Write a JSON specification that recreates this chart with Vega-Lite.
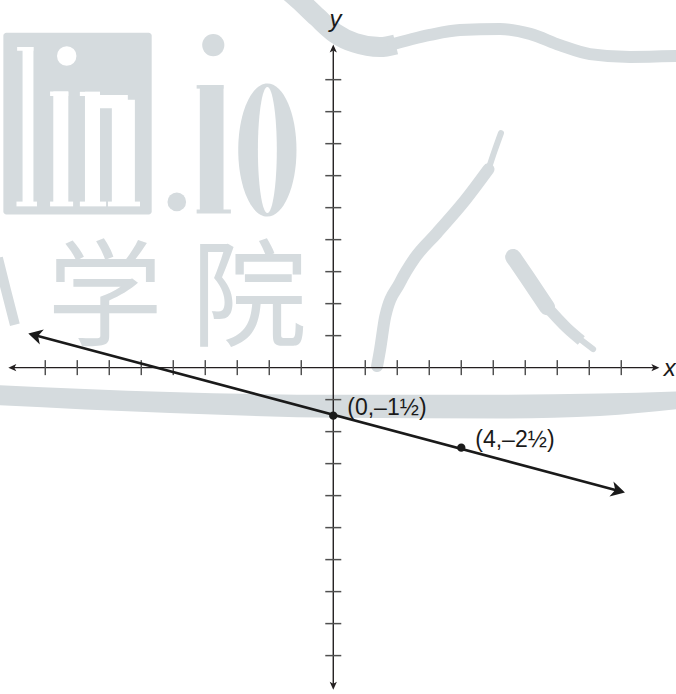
{
  "$schema": "https://vega.github.io/schema/vega-lite/v6.json",
  "width": 676,
  "height": 694,
  "padding": 0,
  "autosize": {"type": "none"},
  "background": "white",
  "config": {"view": {"stroke": null}},
  "datasets": {
    "band": [
      {"x": -10.6, "y": -0.54, "y2": -1.17},
      {"x": -5.1, "y": -0.76, "y2": -1.42},
      {"x": 0.21, "y": -0.85, "y2": -1.57},
      {"x": 5.21, "y": -0.85, "y2": -1.59},
      {"x": 8.33, "y": -0.81, "y2": -1.51},
      {"x": 10.83, "y": -0.74, "y2": -1.29}
    ],
    "curveA": [
      {"x": -1.51, "y": 11.87}, {"x": -1.07, "y": 11.49}, {"x": -0.51, "y": 10.96},
      {"x": 0.05, "y": 10.46}, {"x": 0.68, "y": 10.15}, {"x": 1.46, "y": 10.02}, {"x": 1.95, "y": 10.1}
    ],
    "curveB": [
      {"x": 1.7, "y": 10.06}, {"x": 3.02, "y": 10.4}, {"x": 3.96, "y": 10.55}, {"x": 5.21, "y": 10.58},
      {"x": 6.15, "y": 10.43}, {"x": 7.08, "y": 10.08}, {"x": 8.02, "y": 9.8}, {"x": 9.27, "y": 9.71}, {"x": 10.83, "y": 9.74}
    ],
    "slash1": [
      {"x": 5.24, "y": 7.33}, {"x": 5.05, "y": 6.8}, {"x": 4.85, "y": 6.2}
    ],
    "slash2": [
      {"x": 4.85, "y": 6.2}, {"x": 4.12, "y": 5.23}, {"x": 3.24, "y": 4.21}, {"x": 2.55, "y": 3.43},
      {"x": 2.08, "y": 2.65}, {"x": 1.62, "y": 1.58}, {"x": 1.46, "y": 0.55}, {"x": 1.37, "y": 0.05}
    ],
    "bs1": [
      {"x": 5.62, "y": 3.46}, {"x": 6.05, "y": 2.83}, {"x": 6.68, "y": 1.89}
    ],
    "bs2": [
      {"x": 6.6, "y": 1.99}, {"x": 7.3, "y": 1.24}, {"x": 7.75, "y": 0.85}
    ],
    "bs3": [
      {"x": 7.6, "y": 0.98}, {"x": 8.12, "y": 0.58}
    ],
    "leftDiag": [
      {"x": -10.48, "y": 3.43}, {"x": -10.23, "y": 2.43}, {"x": -9.95, "y": 1.34}
    ],
    "box": [
      {"x": -10.31, "x2": -5.675, "y": 10.47, "y2": 4.79}
    ],
    "linLetters": [
      {"x": -9.71, "x2": -9.37, "y": 10.02, "y2": 5.05},
      {"x": -9.88, "x2": -9.37, "y": 10.02, "y2": 9.9},
      {"x": -9.9, "x2": -9.26, "y": 5.19, "y2": 5.04},
      {"x": -8.75, "x2": -8.28, "y": 8.63, "y2": 5.05},
      {"x": -8.85, "x2": -8.28, "y": 8.63, "y2": 8.49},
      {"x": -8.85, "x2": -8.13, "y": 5.19, "y2": 5.04},
      {"x": -7.76, "x2": -7.29, "y": 8.62, "y2": 5.05},
      {"x": -7.92, "x2": -7.29, "y": 8.62, "y2": 8.49},
      {"x": -7.45, "x2": -6.42, "y": 8.52, "y2": 8.11},
      {"x": -6.92, "x2": -6.2, "y": 8.37, "y2": 5.05},
      {"x": -7.92, "x2": -7.1, "y": 5.19, "y2": 5.04},
      {"x": -7.04, "x2": -6.04, "y": 5.19, "y2": 5.04}
    ],
    "ioRects": [
      {"x": -4.17, "x2": -3.43, "y": 8.83, "y2": 4.83},
      {"x": -4.27, "x2": -3.43, "y": 8.83, "y2": 8.72},
      {"x": -4.27, "x2": -3.2, "y": 4.94, "y2": 4.82}
    ],
    "cjk": [
      {"x": -7.13, "y": 0.96, "t": "学"},
      {"x": -2.63, "y": 0.96, "t": "院"}
    ],
    "axes": [
      {"a": "x", "x": -9.98, "y": 0},
      {"a": "x", "x": 10.02, "y": 0},
      {"a": "y", "x": 0, "y": -9.9},
      {"a": "y", "x": 0, "y": 9.92}
    ],
    "xticks": [
      {"x": -9, "y": 0}, {"x": -8, "y": 0}, {"x": -7, "y": 0}, {"x": -6, "y": 0}, {"x": -5, "y": 0},
      {"x": -4, "y": 0}, {"x": -3, "y": 0}, {"x": -2, "y": 0}, {"x": -1, "y": 0},
      {"x": 1, "y": 0}, {"x": 2, "y": 0}, {"x": 3, "y": 0}, {"x": 4, "y": 0}, {"x": 5, "y": 0},
      {"x": 6, "y": 0}, {"x": 7, "y": 0}, {"x": 8, "y": 0}, {"x": 9, "y": 0}
    ],
    "yticks": [
      {"x": 0, "y": -9}, {"x": 0, "y": -8}, {"x": 0, "y": -7}, {"x": 0, "y": -6}, {"x": 0, "y": -5},
      {"x": 0, "y": -4}, {"x": 0, "y": -3}, {"x": 0, "y": -2}, {"x": 0, "y": -1},
      {"x": 0, "y": 1}, {"x": 0, "y": 2}, {"x": 0, "y": 3}, {"x": 0, "y": 4}, {"x": 0, "y": 5},
      {"x": 0, "y": 6}, {"x": 0, "y": 7}, {"x": 0, "y": 8}, {"x": 0, "y": 9}
    ],
    "mainLine": [
      {"x": -9.29, "y": 1.005},
      {"x": 8.874, "y": -3.842}
    ],
    "points": [
      {"x": 0, "y": -1.5, "label": "(0,–1½)"},
      {"x": 4, "y": -2.5, "label": "(4,–2½)"}
    ]
  },
  "encoding": {
    "x": {"field": "x", "type": "quantitative", "scale": {"domain": [-10.415, 10.71], "nice": false, "zero": false}, "axis": null},
    "y": {"field": "y", "type": "quantitative", "scale": {"domain": [-10.2, 11.49], "nice": false, "zero": false}, "axis": null}
  },
  "layer": [
    {"data": {"name": "band"}, "mark": {"type": "area", "color": "#d5dbde", "interpolate": "monotone"}, "encoding": {"y2": {"field": "y2"}}},
    {"data": {"name": "curveA"}, "mark": {"type": "line", "color": "#d5dbde", "strokeWidth": 20, "strokeCap": "butt", "strokeJoin": "round", "interpolate": "monotone"}, "encoding": {}},
    {"data": {"name": "curveB"}, "mark": {"type": "line", "color": "#d5dbde", "strokeWidth": 12, "strokeCap": "butt", "strokeJoin": "round", "interpolate": "monotone"}, "encoding": {}},
    {"data": {"name": "slash1"}, "mark": {"type": "line", "color": "#d5dbde", "strokeWidth": 6, "strokeCap": "round", "interpolate": "monotone"}, "encoding": {}},
    {"data": {"name": "slash2"}, "mark": {"type": "line", "color": "#d5dbde", "strokeWidth": 12, "strokeCap": "round", "interpolate": "monotone"}, "encoding": {}},
    {"data": {"name": "bs1"}, "mark": {"type": "line", "color": "#d5dbde", "strokeWidth": 16, "strokeCap": "round", "interpolate": "monotone"}, "encoding": {}},
    {"data": {"name": "bs2"}, "mark": {"type": "line", "color": "#d5dbde", "strokeWidth": 11, "strokeCap": "butt", "interpolate": "monotone"}, "encoding": {}},
    {"data": {"name": "bs3"}, "mark": {"type": "line", "color": "#d5dbde", "strokeWidth": 6, "strokeCap": "round"}, "encoding": {}},
    {"data": {"name": "leftDiag"}, "mark": {"type": "line", "color": "#d5dbde", "strokeWidth": 10, "strokeCap": "butt", "interpolate": "monotone"}, "encoding": {}},
    {"data": {"name": "box"}, "mark": {"type": "rect", "color": "#d5dbde", "cornerRadius": 3}, "encoding": {"x2": {"field": "x2"}, "y2": {"field": "y2"}}},
    {"data": {"name": "linLetters"}, "mark": {"type": "rect", "color": "white"}, "encoding": {"x2": {"field": "x2"}, "y2": {"field": "y2"}}},
    {"data": {"values": [{"x": -8.33, "y": 9.74}]}, "mark": {"type": "circle", "color": "white", "size": 380, "opacity": 1}},
    {"data": {"values": [{"x": -4.89, "y": 5.18}]}, "mark": {"type": "circle", "color": "#d5dbde", "size": 346, "opacity": 1}},
    {"data": {"values": [{"x": -3.75, "y": 10.08}]}, "mark": {"type": "circle", "color": "#d5dbde", "size": 491, "opacity": 1}},
    {"data": {"name": "ioRects"}, "mark": {"type": "rect", "color": "#d5dbde"}, "encoding": {"x2": {"field": "x2"}, "y2": {"field": "y2"}}},
    {"data": {"values": [{"x": -2.06, "y": 6.8}]}, "mark": {"type": "point", "filled": true, "opacity": 1, "color": "#d5dbde", "size": 17689, "shape": "M0,-1A0.438,1,0,1,1,0,1A0.438,1,0,1,1,0,-1Z"}},
    {"data": {"values": [{"x": -2.06, "y": 6.8}]}, "mark": {"type": "point", "filled": true, "opacity": 1, "color": "white", "size": 15876, "shape": "M0,-1A0.15,1,0,1,1,0,1A0.15,1,0,1,1,0,-1Z"}},
    {"data": {"name": "cjk"}, "mark": {"type": "text", "color": "#d5dbde", "font": "Noto Sans CJK SC", "fontSize": 116, "align": "center", "baseline": "alphabetic"}, "encoding": {"text": {"field": "t"}}},
    {"data": {"name": "axes"}, "mark": {"type": "line", "color": "#231f20", "strokeWidth": 1.4}, "encoding": {"detail": {"field": "a"}}},
    {"data": {"name": "xticks"}, "mark": {"type": "tick", "orient": "vertical", "color": "#505050", "size": 15, "thickness": 1.5, "opacity": 1}},
    {"data": {"name": "yticks"}, "mark": {"type": "tick", "orient": "horizontal", "color": "#505050", "size": 16, "thickness": 1.5, "opacity": 1}},
    {"data": {"values": [{"x": 10.19, "y": 0}]}, "mark": {"type": "point", "filled": true, "opacity": 1, "color": "#231f20", "size": 256, "angle": 0, "shape": "M0,0L-1,-0.45L-0.75,0L-1,0.45Z"}},
    {"data": {"values": [{"x": -10.155, "y": 0}]}, "mark": {"type": "point", "filled": true, "opacity": 1, "color": "#231f20", "size": 256, "angle": 180, "shape": "M0,0L-1,-0.45L-0.75,0L-1,0.45Z"}},
    {"data": {"values": [{"x": 0, "y": 10.1}]}, "mark": {"type": "point", "filled": true, "opacity": 1, "color": "#231f20", "size": 256, "angle": 270, "shape": "M0,0L-1,-0.45L-0.75,0L-1,0.45Z"}},
    {"data": {"values": [{"x": 0, "y": -10.07}]}, "mark": {"type": "point", "filled": true, "opacity": 1, "color": "#231f20", "size": 256, "angle": 90, "shape": "M0,0L-1,-0.45L-0.75,0L-1,0.45Z"}},
    {"data": {"name": "mainLine"}, "mark": {"type": "line", "color": "#1a1a1a", "strokeWidth": 2.6}, "encoding": {}},
    {"data": {"values": [{"x": -9.53, "y": 1.07}]}, "mark": {"type": "point", "filled": true, "opacity": 1, "color": "#1a1a1a", "size": 784, "angle": 195, "shape": "M0,0L-1,-0.55L-0.72,0L-1,0.55Z"}},
    {"data": {"values": [{"x": 9.115, "y": -3.906}]}, "mark": {"type": "point", "filled": true, "opacity": 1, "color": "#1a1a1a", "size": 784, "angle": 15, "shape": "M0,0L-1,-0.55L-0.72,0L-1,0.55Z"}},
    {"data": {"name": "points"}, "mark": {"type": "circle", "color": "#1a1a1a", "size": 70, "opacity": 1}},
    {"data": {"name": "points"}, "mark": {"type": "text", "color": "#1a1a1a", "font": "Liberation Sans", "fontSize": 23, "align": "left", "baseline": "alphabetic", "dx": 14, "dy": -1}, "encoding": {"text": {"field": "label"}}},
    {"data": {"values": [{"x": 10.33, "y": -0.26, "t": "x"}]}, "mark": {"type": "text", "color": "#1a1a1a", "font": "Liberation Sans", "fontStyle": "italic", "fontSize": 24, "align": "left", "baseline": "alphabetic"}, "encoding": {"text": {"field": "t"}}},
    {"data": {"values": [{"x": 0.07, "y": 10.66, "t": "y"}]}, "mark": {"type": "text", "color": "#1a1a1a", "font": "Liberation Sans", "fontStyle": "italic", "fontSize": 24, "align": "center", "baseline": "alphabetic"}, "encoding": {"text": {"field": "t"}}}
  ]
}
